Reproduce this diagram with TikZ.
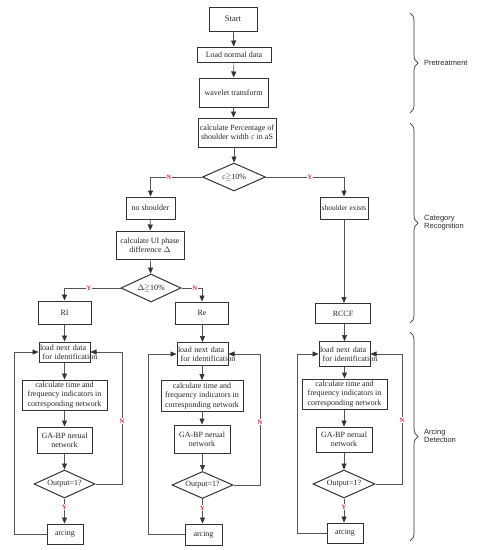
\documentclass[tikz,border=0pt]{standalone}
\usepackage{amssymb}
\usepackage{fontspec}
\setmainfont{Liberation Serif}
\newfontfamily\sansf{Liberation Sans}
\usetikzlibrary{shapes.geometric,arrows.meta,decorations.pathreplacing}
\definecolor{boxc}{HTML}{333333}
\definecolor{linec}{HTML}{555555}
\definecolor{ynred}{HTML}{E8202A}
\newcommand{\fs}{\fontsize{8}{9.2}\selectfont}
\newcommand{\ldtext}{\makebox[49pt][l]{load next data}\\\makebox[49pt][l]{\ for identification}}
\tikzset{
  box/.style={draw=boxc, line width=1pt, inner sep=1pt, align=center, font=\fs, text=black!85},
  ldbox/.style={box, text width=49pt, align=left, minimum width=51pt},
  dia/.style={draw=boxc, line width=1pt, diamond, aspect=2.2, inner sep=0pt, font=\fs, text=black!85},
  conn/.style={draw=linec, line width=0.7pt},
  arr/.style={conn, -{Triangle[length=6pt,width=5pt,color=boxc]}},
  yn/.style={text=ynred, fill=white, inner sep=0.6pt, font=\fontsize{6.5}{6.5}\selectfont\bfseries},
  brc/.style={draw=boxc, line width=0.7pt, decorate, decoration={brace, amplitude=8pt}},
  blab/.style={anchor=west, align=left, font=\sansf\fontsize{7.5}{8.3}\selectfont, inner sep=0pt, text=black!85}
}
\begin{document}
\begin{tikzpicture}[x=1pt,y=-1pt]
\useasboundingbox (0,0) rectangle (478,550);
% top chain
\node[box, minimum width=48pt, minimum height=24pt, font=\fontsize{8.5}{9}\selectfont] (start) at (233,19) {Start};
\node[box, minimum width=74pt, minimum height=15pt] (load) at (234,54.5) {Load normal data};
\node[box, minimum width=69pt, minimum height=29pt] (wave) at (233.5,92.5) {wavelet transform};
\node[box, minimum width=78pt, minimum height=29pt, inner sep=0pt] (calcP) at (237,132.5) {\makebox[76pt]{calculate Percentage of}\\shoulder width $\varepsilon$ in aS};
\node[dia, minimum width=63pt, minimum height=28pt] (ediam) at (234,177) {$\varepsilon$\kern-0.5pt$\geqq$10\%};
\node[box, minimum width=49pt, minimum height=22pt] (nosh) at (150.5,208) {no shoulder};
\node[box, minimum width=48pt, minimum height=22pt, inner sep=0pt, font=\fontsize{7.5}{9}\selectfont] (shex) at (344,208) {\makebox[46pt]{shoulder exists}};
\node[box, minimum width=68pt, minimum height=28pt] (ui) at (150,245) {calculate UI phase\\difference $\Delta$};
\node[dia, minimum width=60pt, minimum height=28pt] (ddiam) at (151,288) {$\Delta$\kern-0.5pt$\geqq$10\%};
\node[box, minimum width=53pt, minimum height=23pt] (ri) at (64.5,312.5) {RI};
\node[box, minimum width=53pt, minimum height=22pt] (re) at (202,313) {Re};
\node[box, minimum width=55pt, minimum height=20pt] (rccf) at (343,313.5) {RCCF};
% left column
\node[ldbox, minimum height=20pt] (ld1) at (64.5,352) {\ldtext};
\node[box, minimum width=85pt, minimum height=30pt] (ct1) at (64.5,395) {calculate time and\\frequency indicators in\\corresponding network};
\node[box, minimum width=55pt, minimum height=26pt] (ga1) at (64.5,440) {GA-BP nerual\\network};
\node[dia, minimum width=61pt, minimum height=28pt] (o1) at (64.5,484) {Output=1?};
\node[box, minimum width=36pt, minimum height=20pt] (a1) at (65,534) {arcing};
% middle column
\node[ldbox, minimum height=23pt] (ld2) at (202.5,354) {\ldtext};
\node[box, minimum width=82pt, minimum height=31pt, inner sep=0pt] (ct2) at (202,396) {calculate time and\\\makebox[80pt]{frequency indicators in}\\\makebox[80pt]{corresponding network}};
\node[box, minimum width=56pt, minimum height=28pt] (ga2) at (202,439) {GA-BP nerual\\network};
\node[dia, minimum width=61pt, minimum height=27pt] (o2) at (202.5,485) {Output=1?};
\node[box, minimum width=37pt, minimum height=21pt] (a2) at (203.5,534.5) {arcing};
% right column
\node[ldbox, minimum height=25pt] (ld3) at (344.5,354) {\ldtext};
\node[box, minimum width=85pt, minimum height=30pt] (ct3) at (344.5,394) {calculate time and\\frequency indicators in\\corresponding network};
\node[box, minimum width=56pt, minimum height=25pt] (ga3) at (344,439.5) {GA-BP nerual\\network};
\node[dia, minimum width=62pt, minimum height=28pt] (o3) at (344,484) {Output=1?};
\node[box, minimum width=36pt, minimum height=20pt] (a3) at (345,533) {arcing};
% loop coordinates
\coordinate (L1) at (14,0); \coordinate (R1) at (122,0);
\coordinate (L2) at (148,0); \coordinate (R2) at (260,0);
\coordinate (L3) at (297,0); \coordinate (R3) at (402,0);
% connectors top
\draw[arr] (start) -- (load);
\draw[arr] (load) -- (wave);
\draw[arr] (wave.south) -- (wave.south |- calcP.north);
\draw[arr] (calcP.south -| ediam) -- (ediam);
\draw[arr] (ediam.west) -| (nosh.north);
\draw[arr] (ediam.east) -| (shex.north);
\draw[arr] (nosh) -- (ui);
\draw[arr] (ui) -- (ddiam);
\draw[arr] (ddiam.west) -| (ri.north);
\draw[arr] (ddiam.east) -| (re.north);
\draw[arr] (shex.south) -- (shex.south |- rccf.north);
% columns
\draw[arr] (ri) -- (ld1);
\draw[arr] (ld1) -- (ct1);
\draw[arr] (ct1) -- (ga1);
\draw[arr] (ga1) -- (o1);
\draw[arr] (o1) -- (a1.north -| o1);
\draw[arr] (a1.west) -- (a1.west -| L1) |- (ld1.west);
\draw[arr] (o1.east) -- (o1.east -| R1) |- (ld1.east);
\draw[arr] (re.south -| ld2) -- (ld2);
\draw[arr] (ld2.south -| ct2) -- (ct2);
\draw[arr] (ct2) -- (ga2);
\draw[arr] (ga2.south -| o2) -- (o2);
\draw[arr] (o2) -- (a2.north -| o2);
\draw[arr] (a2.west) -- (a2.west -| L2) |- (ld2.west);
\draw[arr] (o2.east) -- (o2.east -| R2) |- (ld2.east);
\draw[arr] (rccf.south -| ld3) -- (ld3);
\draw[arr] (ld3.south -| ct3) -- (ct3);
\draw[arr] (ct3.south -| ga3) -- (ga3);
\draw[arr] (ga3) -- (o3);
\draw[arr] (o3) -- (a3.north -| o3);
\draw[arr] (a3.west) -- (a3.west -| L3) |- (ld3.west);
\draw[arr] (o3.east) -- (o3.east -| R3) |- (ld3.east);
% Y/N labels
\node[yn] (n1) at (169,177) {N};
\node[yn] (y1) at (310,177) {Y};
\node[yn] (y2) at (89,288) {Y};
\node[yn] (n2) at (195,288) {N};
\node[yn] (n3) at (122,421) {N};
\node[yn] (y3) at (64.5,507) {Y};
\node[yn] (n4) at (260,422) {N};
\node[yn] (y4) at (202.5,508) {Y};
\node[yn] (n5) at (402,420) {N};
\node[yn] (y5) at (344,507) {Y};
% braces
\draw[brc] (410,13) -- (410,113);
\draw[brc] (410,123) -- (410,323);
\draw[brc] (410,332) -- (410,541);
\node[blab] (p1) at (424,63) {Pretreatment};
\node[blab] (p2) at (424,223) {Category\\Recognition};
\node[blab] (p3) at (424,436) {Arcing\\Detection};
\end{tikzpicture}
\end{document}
